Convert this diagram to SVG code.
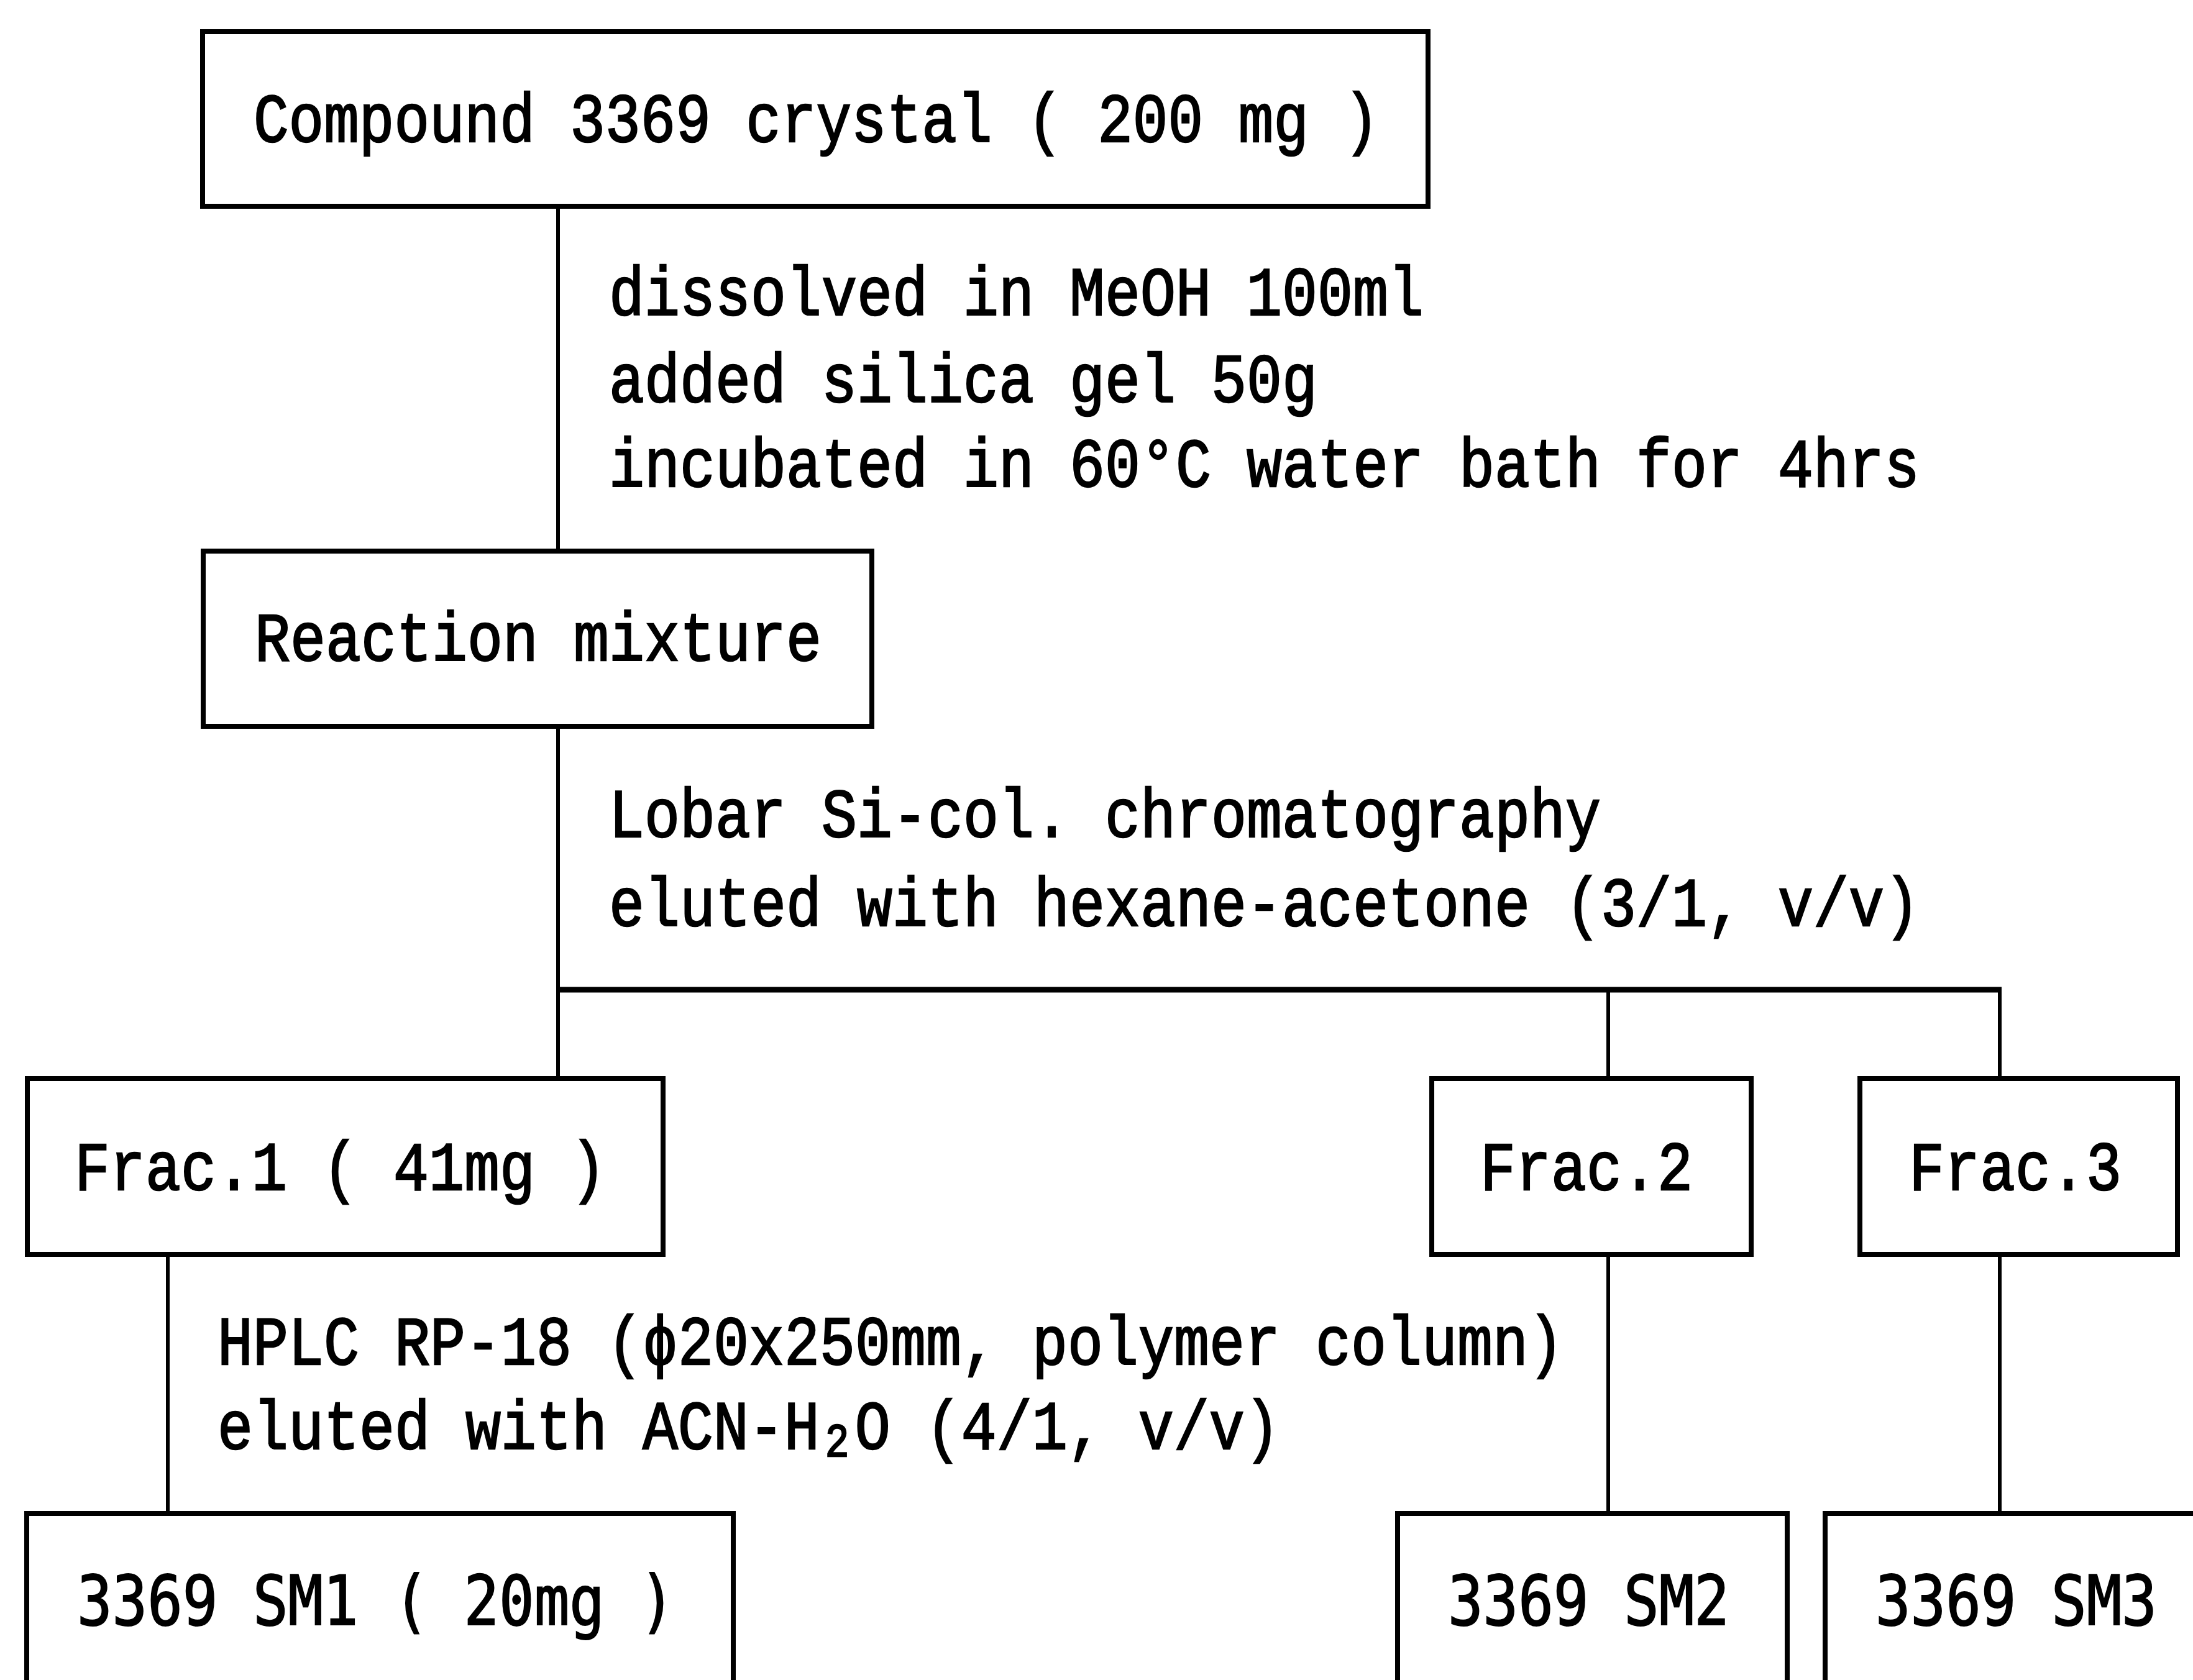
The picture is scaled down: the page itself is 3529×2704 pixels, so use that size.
<svg xmlns="http://www.w3.org/2000/svg" width="3529" height="2704" viewBox="0 0 3529 2704">
<style>
.bg{fill:#ffffff}
.box{fill:none;stroke:#000;stroke-width:8}
.ln{fill:none;stroke:#000;stroke-width:6}
.hl{fill:none;stroke:#000;stroke-width:9}
.t{font-family:"Liberation Mono","DejaVu Sans Mono",monospace;font-size:112px;fill:#000;stroke:#000;stroke-width:2.5}
.s{font-family:"DejaVu Sans Mono","Liberation Mono",monospace;font-size:110px;fill:#000;stroke:#000;stroke-width:2}
.sub{font-size:76px}
</style>
<rect class="bg" x="0" y="0" width="3529" height="2704"/>
<g id="connectors">
<line class="ln" x1="898" y1="332" x2="898" y2="887"/>
<line class="ln" x1="898" y1="1169" x2="898" y2="1736"/>
<line class="hl" x1="895" y1="1593" x2="3221" y2="1593"/>
<line class="ln" x1="2588" y1="1593" x2="2588" y2="1736"/>
<line class="ln" x1="3218" y1="1593" x2="3218" y2="1736"/>
<line class="ln" x1="270" y1="2019" x2="270" y2="2436"/>
<line class="ln" x1="2588" y1="2019" x2="2588" y2="2436"/>
<line class="ln" x1="3218" y1="2019" x2="3218" y2="2436"/>
</g>
<g id="step-labels">
<text class="t" x="980" y="507" textLength="1311" lengthAdjust="spacingAndGlyphs">dissolved in MeOH 100ml</text>
<text class="t" x="980" y="647" textLength="1140" lengthAdjust="spacingAndGlyphs">added silica gel 50g</text>
<text class="t" x="980" y="783" textLength="2109" lengthAdjust="spacingAndGlyphs">incubated in 60°C water bath for 4hrs</text>
<text class="t" x="980" y="1347" textLength="1596" lengthAdjust="spacingAndGlyphs">Lobar Si-col. chromatography</text>
<text class="t" x="980" y="1490" textLength="2109" lengthAdjust="spacingAndGlyphs">eluted with hexane-acetone (3/1, v/v)</text>
<text class="t" x="350" y="2196" textLength="2166" lengthAdjust="spacingAndGlyphs">HPLC RP-18 (ϕ20x250mm, polymer column)</text>
<text class="t" transform="translate(350,2332) scale(0.848,1)" x="0" y="0">eluted with ACN-H<tspan class="sub" x="1153" dy="12">2</tspan><tspan x="1209.6" dy="-12">O (4/1, v/v)</tspan></text>
</g>
<g id="node-compound">
<rect class="box" x="326" y="51" width="1972" height="281"/>
<text class="t" x="408" y="228" textLength="1811" lengthAdjust="spacingAndGlyphs">Compound 3369 crystal ( 200 mg )</text>
</g>
<g id="node-reaction">
<rect class="box" x="327" y="887" width="1076" height="282"/>
<text class="t" x="410" y="1063" textLength="912" lengthAdjust="spacingAndGlyphs">Reaction mixture</text>
</g>
<g id="node-frac1">
<rect class="box" x="44" y="1736" width="1023" height="283"/>
<text class="t" x="120" y="1915" textLength="855" lengthAdjust="spacingAndGlyphs">Frac.1 ( 41mg )</text>
</g>
<g id="node-frac2">
<rect class="box" x="2304" y="1736" width="514" height="283"/>
<text class="t" x="2382" y="1915" textLength="342" lengthAdjust="spacingAndGlyphs">Frac.2</text>
</g>
<g id="node-frac3">
<rect class="box" x="2993" y="1736" width="511" height="283"/>
<text class="t" x="3072" y="1915" textLength="342" lengthAdjust="spacingAndGlyphs">Frac.3</text>
</g>
<g id="node-sm1">
<rect class="box" x="43" y="2436" width="1137" height="320"/>
<text class="s" x="124" y="2615" textLength="962" lengthAdjust="spacingAndGlyphs">3369 SM1 ( 20mg )</text>
</g>
<g id="node-sm2">
<rect class="box" x="2249" y="2436" width="627" height="320"/>
<text class="s" x="2330" y="2615" textLength="453" lengthAdjust="spacingAndGlyphs">3369 SM2</text>
</g>
<g id="node-sm3">
<rect class="box" x="2937" y="2436" width="640" height="320"/>
<text class="s" x="3018" y="2615" textLength="453" lengthAdjust="spacingAndGlyphs">3369 SM3</text>
</g>
</svg>
